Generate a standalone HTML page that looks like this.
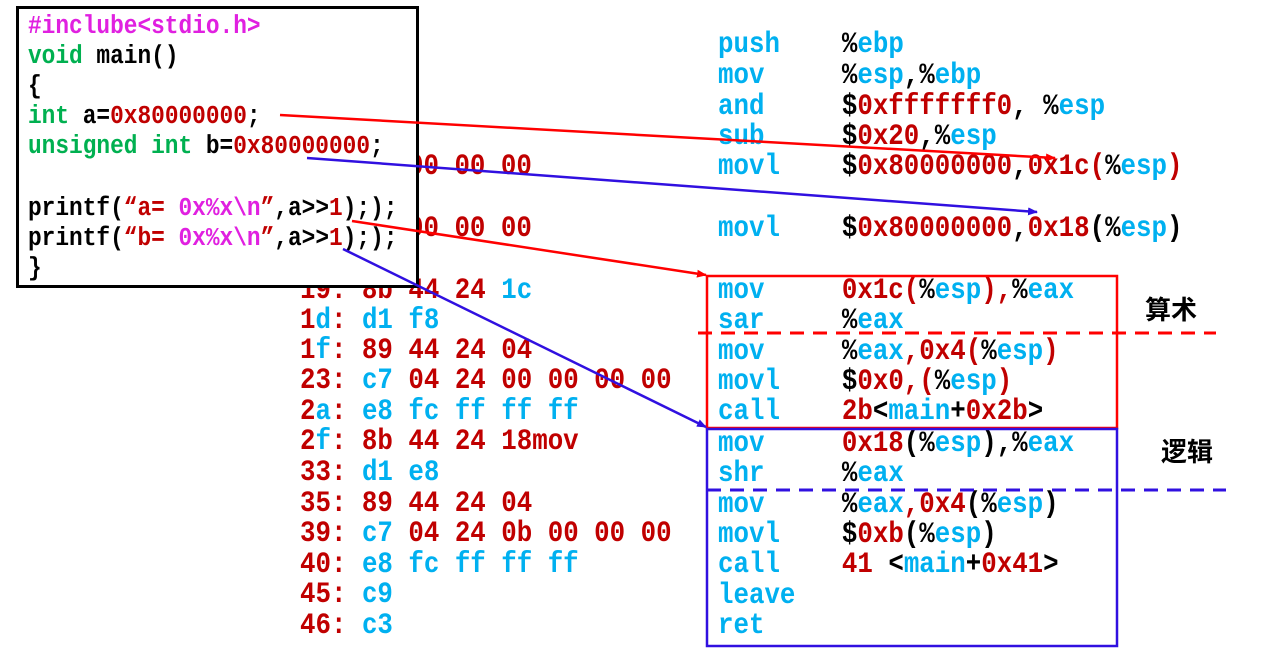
<!DOCTYPE html>
<html><head><meta charset="utf-8"><style>
html,body{margin:0;padding:0;background:#fff;}
body{width:1268px;height:655px;position:relative;overflow:hidden;}
.m{position:absolute;font-family:"Liberation Mono",monospace;font-weight:bold;font-size:25.8px;line-height:30px;white-space:pre;transform:scaleY(1.13);transform-origin:0 50%;}
.c{font-size:22.8px;}
.r{color:#c00000}.b{color:#00b0f0}.k{color:#000}.g{color:#00b050}.p{color:#e020e0}
#box{position:absolute;left:16px;top:6px;width:397px;height:276px;border:3px solid #000;background:#fff;}
.cjk{position:absolute;font-family:"Liberation Sans","Noto Sans CJK SC",sans-serif;font-weight:bold;font-size:26px;color:#000;}
</style></head><body>

<div class="m r" style="left:408px;top:152px">00 00 00</div>
<div class="m r" style="left:408px;top:214px">00 00 00</div>
<div class="m" style="left:300px;top:276px"><span class="r">19: 8b 44 24 </span><span class="b">1c</span></div>
<div class="m" style="left:300px;top:306px"><span class="r">1</span><span class="b">d</span><span class="r">: </span><span class="b">d1 f8</span></div>
<div class="m" style="left:300px;top:336px"><span class="r">1</span><span class="b">f</span><span class="r">: 89 44 24 04</span></div>
<div class="m" style="left:300px;top:366px"><span class="r">23: </span><span class="b">c7</span><span class="r"> 04 24 00 00 00 00</span></div>
<div class="m" style="left:300px;top:397px"><span class="r">2</span><span class="b">a</span><span class="r">: </span><span class="b">e8 fc ff ff ff</span></div>
<div class="m" style="left:300px;top:427px"><span class="r">2</span><span class="b">f</span><span class="r">: 8b 44 24 18mov</span></div>
<div class="m" style="left:300px;top:458px"><span class="r">33: </span><span class="b">d1 e8</span></div>
<div class="m" style="left:300px;top:489px"><span class="r">35: 89 44 24 04</span></div>
<div class="m" style="left:300px;top:519px"><span class="r">39: </span><span class="b">c7</span><span class="r"> 04 24 0b 00 00 00</span></div>
<div class="m" style="left:300px;top:550px"><span class="r">40: </span><span class="b">e8 fc ff ff ff</span></div>
<div class="m" style="left:300px;top:580px"><span class="r">45: </span><span class="b">c9</span></div>
<div class="m" style="left:300px;top:611px"><span class="r">46: </span><span class="b">c3</span></div>

<div id="box"></div>
<div class="m c p" style="left:28px;top:11px">#inclube&lt;stdio.h&gt;</div>
<div class="m c k" style="left:28px;top:41px"><span class="g">void</span> main()</div>
<div class="m c k" style="left:28px;top:71px">{</div>
<div class="m c k" style="left:28px;top:101px"><span class="g">int</span> a=<span class="r">0x80000000</span>;</div>
<div class="m c k" style="left:28px;top:131px"><span class="g">unsigned int</span> b=<span class="r">0x80000000</span>;</div>
<div class="m c k" style="left:28px;top:193px">printf(<span class="r">“a= </span><span class="p">0x%x\n</span><span class="r">”</span>,a&gt;&gt;<span class="r">1</span>););</div>
<div class="m c k" style="left:28px;top:223px">printf(<span class="r">“b= </span><span class="p">0x%x\n</span><span class="r">”</span>,a&gt;&gt;<span class="r">1</span>););</div>
<div class="m c k" style="left:28px;top:253px">}</div>

<div class="m" style="left:718px;top:30px"><span class="b">push</span>    <span class="k">%</span><span class="b">ebp</span></div>
<div class="m" style="left:718px;top:61px"><span class="b">mov</span>     <span class="k">%</span><span class="b">esp</span><span class="k">,%</span><span class="b">ebp</span></div>
<div class="m" style="left:718px;top:92px"><span class="b">and</span>     <span class="k">$</span><span class="r">0xfffffff0</span><span class="k">, %</span><span class="b">esp</span></div>
<div class="m" style="left:718px;top:122px"><span class="b">sub</span>     <span class="k">$</span><span class="r">0x20</span><span class="k">,%</span><span class="b">esp</span></div>
<div class="m" style="left:718px;top:152px"><span class="b">movl</span>    <span class="k">$</span><span class="r">0x80000000</span><span class="k">,</span><span class="r">0x1c(</span><span class="k">%</span><span class="b">esp</span><span class="r">)</span></div>
<div class="m" style="left:718px;top:214px"><span class="b">movl</span>    <span class="k">$</span><span class="r">0x80000000</span><span class="k">,</span><span class="r">0x18</span><span class="k">(%</span><span class="b">esp</span><span class="k">)</span></div>
<div class="m" style="left:718px;top:276px"><span class="b">mov</span>     <span class="r">0x1c(</span><span class="k">%</span><span class="b">esp</span><span class="r">),</span><span class="k">%</span><span class="b">eax</span></div>
<div class="m" style="left:718px;top:306px"><span class="b">sar</span>     <span class="k">%</span><span class="b">eax</span></div>
<div class="m" style="left:718px;top:337px"><span class="b">mov</span>     <span class="k">%</span><span class="b">eax</span><span class="r">,0x4(</span><span class="k">%</span><span class="b">esp</span><span class="r">)</span></div>
<div class="m" style="left:718px;top:367px"><span class="b">movl</span>    <span class="k">$</span><span class="r">0x0,(</span><span class="k">%</span><span class="b">esp</span><span class="r">)</span></div>
<div class="m" style="left:718px;top:397px"><span class="b">call</span>    <span class="r">2b</span><span class="k">&lt;</span><span class="b">main</span><span class="k">+</span><span class="r">0x2b</span><span class="k">&gt;</span></div>
<div class="m" style="left:718px;top:429px"><span class="b">mov</span>     <span class="r">0x18</span><span class="k">(%</span><span class="b">esp</span><span class="k">),%</span><span class="b">eax</span></div>
<div class="m" style="left:718px;top:459px"><span class="b">shr</span>     <span class="k">%</span><span class="b">eax</span></div>
<div class="m" style="left:718px;top:490px"><span class="b">mov</span>     <span class="k">%</span><span class="b">eax</span><span class="r">,0x4</span><span class="k">(%</span><span class="b">esp</span><span class="k">)</span></div>
<div class="m" style="left:718px;top:520px"><span class="b">movl</span>    <span class="k">$</span><span class="r">0xb</span><span class="k">(%</span><span class="b">esp</span><span class="k">)</span></div>
<div class="m" style="left:718px;top:550px"><span class="b">call</span>    <span class="r">41</span> <span class="k">&lt;</span><span class="b">main</span><span class="k">+</span><span class="r">0x41</span><span class="k">&gt;</span></div>
<div class="m" style="left:718px;top:581px"><span class="b">leave</span></div>
<div class="m" style="left:718px;top:611px"><span class="b">ret</span></div>

<div class="cjk" style="left:1145px;top:290px">算术</div>
<div class="cjk" style="left:1161px;top:432px">逻辑</div>

<svg width="1268" height="655" style="position:absolute;left:0;top:0" xmlns="http://www.w3.org/2000/svg">
<defs>
<marker id="ar" markerWidth="10" markerHeight="8" refX="9" refY="4" orient="auto" markerUnits="userSpaceOnUse"><path d="M0,0 L10,4 L0,8 z" fill="#ff0000"/></marker>
<marker id="ab" markerWidth="10" markerHeight="8" refX="9" refY="4" orient="auto" markerUnits="userSpaceOnUse"><path d="M0,0 L10,4 L0,8 z" fill="#3010e0"/></marker>
</defs>
<rect x="707" y="276" width="410" height="152" fill="none" stroke="#ff0000" stroke-width="2.5"/>
<rect x="707" y="429" width="410" height="217" fill="none" stroke="#3010e0" stroke-width="2.5"/>
<line x1="698" y1="333" x2="1216" y2="333" stroke="#ff0000" stroke-width="3" stroke-dasharray="14,9"/>
<line x1="707" y1="490" x2="1226" y2="490" stroke="#3010e0" stroke-width="3" stroke-dasharray="14,9"/>
<line x1="280" y1="115" x2="1055" y2="158" stroke="#ff0000" stroke-width="2.5" marker-end="url(#ar)"/>
<line x1="307" y1="158" x2="1037" y2="212" stroke="#3010e0" stroke-width="2.5" marker-end="url(#ab)"/>
<line x1="352" y1="221" x2="706" y2="275" stroke="#ff0000" stroke-width="2.5" marker-end="url(#ar)"/>
<line x1="343" y1="249" x2="706" y2="427" stroke="#3010e0" stroke-width="2.5" marker-end="url(#ab)"/>
</svg>
</body></html>
